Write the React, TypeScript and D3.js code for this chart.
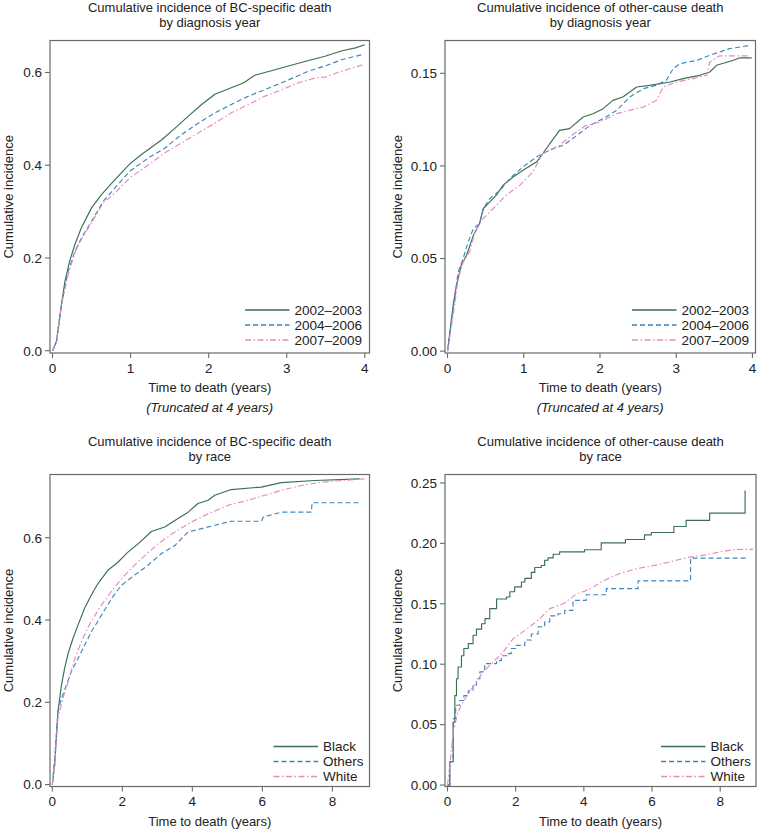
import React from 'react';
import * as d3 from 'd3';

// ---- data: [years, cumulative incidence] ----

// BC-specific death by diagnosis year
const bcYear0203: [number, number][] = [
  [0, 0], [0.05, 0.02], [0.115, 0.1], [0.16, 0.15], [0.22, 0.193], [0.286, 0.229], [0.37, 0.265],
  [0.5, 0.308], [0.63, 0.337], [0.8, 0.369], [0.99, 0.403], [1.14, 0.423], [1.4, 0.455], [1.57, 0.48],
  [1.74, 0.506], [1.91, 0.531], [2.08, 0.553], [2.29, 0.567], [2.45, 0.578], [2.59, 0.594], [2.85, 0.606],
  [3.02, 0.614], [3.28, 0.626], [3.49, 0.635], [3.71, 0.647], [3.88, 0.653], [4.0, 0.66],
];
const bcYear0406: [number, number][] = [
  [0, 0], [0.05, 0.018], [0.115, 0.1], [0.2, 0.171], [0.286, 0.214], [0.37, 0.243], [0.5, 0.279],
  [0.65, 0.322], [0.8, 0.351], [0.99, 0.387], [1.23, 0.416], [1.44, 0.437], [1.65, 0.466], [1.87, 0.491],
  [2.08, 0.513], [2.29, 0.531], [2.51, 0.549], [2.72, 0.563], [2.98, 0.581], [3.28, 0.603], [3.49, 0.614],
  [3.71, 0.628], [3.98, 0.639],
];
const bcYear0709: [number, number][] = [
  [0, 0], [0.05, 0.017], [0.115, 0.099], [0.2, 0.164], [0.286, 0.211], [0.37, 0.24], [0.5, 0.276],
  [0.65, 0.319], [0.8, 0.34], [0.99, 0.373], [1.23, 0.401], [1.44, 0.427], [1.65, 0.448], [1.87, 0.47],
  [2.08, 0.491], [2.29, 0.513], [2.51, 0.531], [2.72, 0.549], [2.94, 0.563], [3.15, 0.578], [3.36, 0.588],
  [3.49, 0.59], [3.71, 0.603], [3.98, 0.617],
];

// other-cause death by diagnosis year
const ocYear0203: [number, number][] = [
  [0, 0], [0.074, 0.0248], [0.118, 0.0356], [0.18, 0.0464], [0.25, 0.0518], [0.34, 0.0626], [0.42, 0.0689],
  [0.47, 0.077], [0.555, 0.0806], [0.64, 0.0842], [0.73, 0.0896], [0.86, 0.094], [0.99, 0.0977],
  [1.17, 0.1022], [1.25, 0.1067], [1.39, 0.1147], [1.47, 0.1192], [1.6, 0.1201], [1.78, 0.1264],
  [1.91, 0.1282], [2.04, 0.1309], [2.17, 0.1354], [2.3, 0.1372], [2.48, 0.1426], [2.65, 0.1435],
  [2.92, 0.1453], [3.09, 0.1471], [3.31, 0.1489], [3.44, 0.1507], [3.53, 0.1543], [3.75, 0.157],
  [3.83, 0.1583], [3.99, 0.1583],
];
const ocYear0406: [number, number][] = [
  [0, 0], [0.074, 0.023], [0.14, 0.0428], [0.205, 0.05], [0.27, 0.059], [0.34, 0.0662], [0.42, 0.0689],
  [0.47, 0.077], [0.555, 0.0824], [0.69, 0.0869], [0.82, 0.0932], [0.99, 0.0995], [1.17, 0.1049],
  [1.34, 0.1085], [1.52, 0.1112], [1.7, 0.1165], [1.87, 0.1219], [2.04, 0.1255], [2.22, 0.13],
  [2.39, 0.1372], [2.57, 0.1417], [2.74, 0.1435], [2.87, 0.1462], [2.96, 0.1525], [3.05, 0.1552],
  [3.27, 0.157], [3.44, 0.1597], [3.57, 0.1615], [3.7, 0.1633], [3.97, 0.1651],
];
const ocYear0709: [number, number][] = [
  [0, 0], [0.074, 0.0194], [0.14, 0.039], [0.205, 0.0482], [0.29, 0.0536], [0.36, 0.0644], [0.47, 0.0716],
  [0.6, 0.077], [0.77, 0.0842], [0.95, 0.0896], [1.12, 0.0968], [1.25, 0.1067], [1.47, 0.1112],
  [1.6, 0.1156], [1.82, 0.1219], [2.0, 0.1237], [2.22, 0.1282], [2.39, 0.13], [2.57, 0.1318],
  [2.74, 0.1354], [2.83, 0.1426], [3.0, 0.1453], [3.22, 0.1471], [3.4, 0.1489], [3.44, 0.1561],
  [3.57, 0.1594], [3.97, 0.1594],
];

// BC-specific death by race
const bcBlack: [number, number][] = [
  [0, 0], [0.067, 0.047], [0.16, 0.177], [0.26, 0.241], [0.35, 0.282], [0.45, 0.318], [0.59, 0.355],
  [0.73, 0.387], [0.92, 0.428], [1.11, 0.46], [1.3, 0.488], [1.59, 0.521], [1.88, 0.541], [2.16, 0.565],
  [2.45, 0.585], [2.83, 0.615], [3.21, 0.626], [3.5, 0.642], [3.88, 0.662], [4.16, 0.683], [4.45, 0.691],
  [4.64, 0.703], [5.11, 0.717], [5.97, 0.723], [6.54, 0.734], [7.5, 0.739], [8.78, 0.743],
];
const bcOthers: [number, number][] = [
  [0, 0], [0.067, 0.063], [0.16, 0.177], [0.26, 0.209], [0.4, 0.241], [0.54, 0.274], [0.73, 0.306],
  [0.92, 0.338], [1.11, 0.371], [1.4, 0.411], [1.69, 0.452], [1.97, 0.484], [2.35, 0.509], [2.73, 0.533],
  [3.11, 0.561], [3.5, 0.581], [3.69, 0.598], [3.88, 0.614], [4.26, 0.622], [4.73, 0.632], [5.11, 0.64],
  [5.97, 0.64], [6.02, 0.65], [6.54, 0.662], [7.4, 0.662], [7.42, 0.685], [8.78, 0.685],
];
const bcWhite: [number, number][] = [
  [0, 0], [0.067, 0.047], [0.16, 0.16], [0.3, 0.209], [0.45, 0.249], [0.64, 0.306], [0.83, 0.347],
  [1.07, 0.391], [1.4, 0.436], [1.78, 0.48], [2.16, 0.517], [2.54, 0.549], [3.02, 0.585], [3.5, 0.614],
  [3.97, 0.638], [4.45, 0.658], [5.02, 0.679], [5.59, 0.691], [6.07, 0.703], [6.54, 0.715], [7.11, 0.727],
  [7.69, 0.735], [8.26, 0.739], [8.92, 0.743],
];

// other-cause death by race
const ocBlack: [number, number][] = [
  [0, 0], [0.068, 0.0193], [0.166, 0.052], [0.215, 0.074], [0.264, 0.088], [0.31, 0.0977], [0.41, 0.107],
  [0.48, 0.113], [0.61, 0.117], [0.75, 0.124], [0.85, 0.129], [1.0, 0.1335], [1.1, 0.1377], [1.24, 0.146],
  [1.44, 0.154], [1.73, 0.1556], [1.83, 0.16], [1.97, 0.164], [2.17, 0.168], [2.27, 0.171], [2.46, 0.176],
  [2.56, 0.18], [2.75, 0.1817], [2.85, 0.186], [2.95, 0.188], [3.1, 0.191], [3.29, 0.193], [4.02, 0.1947],
  [4.51, 0.2004], [5.22, 0.2032], [5.78, 0.207], [5.98, 0.209], [6.64, 0.214], [7.0, 0.219], [7.69, 0.225],
  [8.71, 0.225], [8.73, 0.2437],
];
const ocOthers: [number, number][] = [
  [0, 0], [0.068, 0.0193], [0.166, 0.055], [0.24, 0.066], [0.36, 0.07], [0.48, 0.074], [0.61, 0.078],
  [0.75, 0.0826], [0.85, 0.088], [0.95, 0.0936], [1.09, 0.1005], [1.44, 0.103], [1.58, 0.107],
  [1.78, 0.1088], [1.87, 0.113], [2.02, 0.1156], [2.27, 0.12], [2.46, 0.125], [2.66, 0.131], [2.85, 0.135],
  [3.0, 0.14], [3.24, 0.1418], [3.44, 0.1445], [3.68, 0.1528], [4.07, 0.1575], [4.66, 0.1625],
  [5.59, 0.169], [7.12, 0.169], [7.13, 0.1878], [8.76, 0.1878],
];
const ocWhite: [number, number][] = [
  [0, 0], [0.068, 0.0165], [0.166, 0.044], [0.31, 0.0606], [0.46, 0.0688], [0.65, 0.0771], [0.85, 0.0854],
  [1.04, 0.0936], [1.34, 0.1019], [1.63, 0.11], [1.92, 0.121], [2.32, 0.129], [2.71, 0.1377], [3.0, 0.146],
  [3.39, 0.15], [3.78, 0.158], [4.17, 0.162], [4.56, 0.169], [5.05, 0.175], [5.54, 0.179], [6.12, 0.182],
  [6.71, 0.186], [7.1, 0.1886], [7.59, 0.1905], [7.98, 0.193], [8.46, 0.195], [8.96, 0.195],
];

const yearGroups = ['2002\u20132003', '2004\u20132006', '2007\u20132009'];
const raceGroups = ['Black', 'Others', 'White'];

const xTicksYear = ['0', '1', '2', '3', '4'];
const xTicksRace = ['0', '2', '4', '6', '8'];
const yTicksBC = ['0.0', '0.2', '0.4', '0.6'];
const yTicksOCYear = ['0.00', '0.05', '0.10', '0.15'];
const yTicksOCRace = ['0.00', '0.05', '0.10', '0.15', '0.20', '0.25'];

// ---- styling ----
const styles = [
  { color: '#3a6f52', dash: null },
  { color: '#3d86bd', dash: '5,3' },
  { color: '#e48ac0', dash: '6,2.5,1.5,2.5' },
];
const FONT = '"Liberation Sans", Arial, Helvetica, sans-serif';
const TEXT = '#222';
const AXIS = '#6a6a6a';

function Panel(props) {
  const { box, xDomain, yDomain, xTicks, yTicks, title, groups, data, steps, legendW, legendBottom, note, ylabOffset } = props;
  const x = d3.scaleLinear().domain(xDomain).range([box.l, box.r]);
  const y = d3.scaleLinear().domain(yDomain).range([box.b, box.t]);
  const cx = (box.l + box.r) / 2;
  const cy = (box.t + box.b) / 2;

  return (
    <g fontFamily={FONT}>
      <text x={cx} y={box.t - 28.5} textAnchor="middle" fontSize={13} fill={TEXT}>{title[0]}</text>
      <text x={cx} y={box.t - 13.5} textAnchor="middle" fontSize={13} fill={TEXT}>{title[1]}</text>

      {data.map((d, i) => {
        const line = d3.line<[number, number]>()
          .x((p) => x(p[0]))
          .y((p) => y(p[1]))
          .curve(steps[i] ? d3.curveStepAfter : d3.curveLinear);
        return (
          <path key={i} d={line(d) || ''} fill="none" stroke={styles[i].color} strokeWidth={1.15}
            strokeDasharray={styles[i].dash || undefined} strokeLinejoin="round" />
        );
      })}

      <rect x={box.l} y={box.t} width={box.r - box.l} height={box.b - box.t} fill="none" stroke={AXIS} strokeWidth={1.2} />

      {xTicks.map((t) => (
        <g key={'x' + t}>
          <line x1={x(+t)} x2={x(+t)} y1={box.b} y2={box.b + 5} stroke={AXIS} strokeWidth={1.1} />
          <text x={x(+t)} y={box.b + 19.5} textAnchor="middle" fontSize={13.5} fill={TEXT}>{t}</text>
        </g>
      ))}
      {yTicks.map((t) => (
        <g key={'y' + t}>
          <line x1={box.l - 5} x2={box.l} y1={y(+t)} y2={y(+t)} stroke={AXIS} strokeWidth={1.1} />
          <text x={box.l - 8} y={y(+t)} dy="0.36em" textAnchor="end" fontSize={13.5} fill={TEXT}>{t}</text>
        </g>
      ))}

      <text x={cx} y={box.b + 39} textAnchor="middle" fontSize={13} fill={TEXT}>Time to death (years)</text>
      {note && (
        <text x={cx} y={box.b + 59} textAnchor="middle" fontSize={13} fontStyle="italic" fill={TEXT}>{note}</text>
      )}
      <text transform={`translate(${box.l - ylabOffset},${cy}) rotate(-90)`} dy="0.36em" textAnchor="middle" fontSize={13} fill={TEXT}>
        Cumulative incidence
      </text>

      {groups.map((g, i) => {
        const ly = box.b - legendBottom + i * 15;
        const tx = box.r - legendW;
        return (
          <g key={g}>
            <line x1={tx - 49.5} x2={tx - 5} y1={ly} y2={ly} stroke={styles[i].color} strokeWidth={1.3}
              strokeDasharray={styles[i].dash || undefined} />
            <text x={tx} y={ly} dy="0.36em" fontSize={13.5} fill={TEXT}>{g}</text>
          </g>
        );
      })}
    </g>
  );
}

export default function App() {
  return (
    <svg width={757} height={829} style={{ position: 'absolute', left: 0, top: 0, background: '#fff' }}>
      <Panel
        box={{ l: 50, r: 369.5, t: 40.5, b: 353 }}
        xDomain={[-0.032, 4.06]} yDomain={[-0.005, 0.669]}
        xTicks={xTicksYear} yTicks={yTicksBC}
        title={['Cumulative incidence of BC-specific death', 'by diagnosis year']}
        groups={yearGroups} data={[bcYear0203, bcYear0406, bcYear0709]} steps={[false, false, false]}
        legendW={75} legendBottom={43} note="(Truncated at 4 years)" ylabOffset={42}
      />
      <Panel
        box={{ l: 445, r: 755.5, t: 40.5, b: 353 }}
        xDomain={[-0.033, 4.04]} yDomain={[-0.001, 0.1677]}
        xTicks={xTicksYear} yTicks={yTicksOCYear}
        title={['Cumulative incidence of other-cause death', 'by diagnosis year']}
        groups={yearGroups} data={[ocYear0203, ocYear0406, ocYear0709]} steps={[false, false, false]}
        legendW={74} legendBottom={43} note="(Truncated at 4 years)" ylabOffset={48}
      />
      <Panel
        box={{ l: 50, r: 369.5, t: 474.5, b: 786.5 }}
        xDomain={[-0.066, 9.06]} yDomain={[-0.0046, 0.7536]}
        xTicks={xTicksRace} yTicks={yTicksBC}
        title={['Cumulative incidence of BC-specific death', 'by race']}
        groups={raceGroups} data={[bcBlack, bcOthers, bcWhite]} steps={[false, false, false]}
        legendW={46.5} legendBottom={40} note={null} ylabOffset={42}
      />
      <Panel
        box={{ l: 445, r: 756, t: 474.5, b: 786.5 }}
        xDomain={[-0.073, 9.05]} yDomain={[-0.0012, 0.257]}
        xTicks={xTicksRace} yTicks={yTicksOCRace}
        title={['Cumulative incidence of other-cause death', 'by race']}
        groups={raceGroups} data={[ocBlack, ocOthers, ocWhite]} steps={[true, true, false]}
        legendW={45.5} legendBottom={40} note={null} ylabOffset={48}
      />
    </svg>
  );
}
